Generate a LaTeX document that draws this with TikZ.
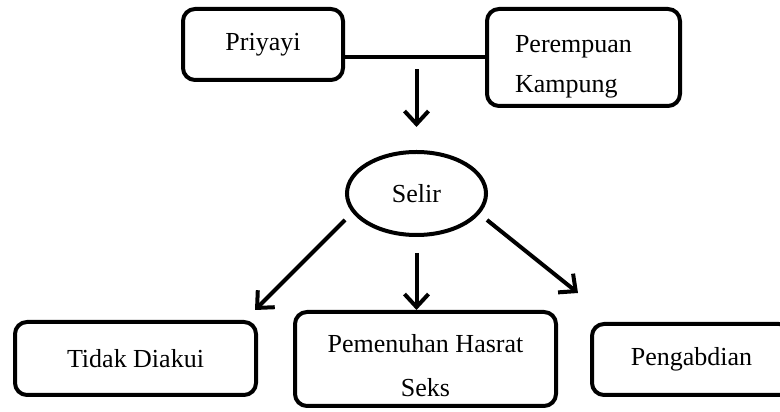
\documentclass[tikz,border=0pt]{standalone}
\usepackage{fontspec}
\setmainfont{Liberation Serif}
\usetikzlibrary{arrows.meta,shapes.geometric}
\begin{document}
\begin{tikzpicture}[x=1pt,y=1pt,
    font=\fontsize{26}{40}\selectfont,line width=4pt,
    box/.style={draw,rounded corners=12pt,inner sep=2pt},
    oval/.style={draw,ellipse,inner sep=0pt},
    arr/.style={-{Straight Barb[length=13pt,width=24pt]}}]
  \useasboundingbox (0,0) rectangle (780,412);
  \clip (0,0) rectangle (780,412);
  \node[box,minimum width=160pt,minimum height=71pt] (priyayi) at (263,367.5) {Priyayi};
  \node[box,minimum height=97pt,text width=137pt,align=left,inner xsep=28pt] (kampung) at (583.5,354.5) {\rule{0pt}{35pt}Perempuan\\Kampung};
  \node[oval,minimum width=139pt,minimum height=83pt] (selir) at (416.5,218.5) {Selir};
  \node[box,minimum width=241pt,minimum height=73pt] (tidak) at (135.5,53.5) {Tidak Diakui};
  \node[box,minimum width=261pt,minimum height=94pt,align=center] (hasrat) at (425.5,53) {\rule{0pt}{31pt}Pemenuhan Hasrat\\[4pt]Seks};
  \node[box,minimum width=199pt,minimum height=71pt] (abdi) at (691.5,52.5) {Pengabdian};
  \coordinate (join) at (selir |- kampung.west);
  \draw (kampung.west) -- (kampung.west -| priyayi.east);
  \draw[arr] ([yshift=-12pt]join) -- ([yshift=23pt]selir.north);
  \draw[arr] ([yshift=-16pt]selir.south) -- (selir.south |- hasrat.north);
  \draw[arr] ([yshift=-26.5pt]selir.west) -- ([shift={(-3pt,10pt)}]tidak.north east);
  \draw[arr] ([shift={(-1pt,-26.5pt)}]selir.east) -- ([shift={(-12pt,29pt)}]abdi.north west);
\end{tikzpicture}
\end{document}
